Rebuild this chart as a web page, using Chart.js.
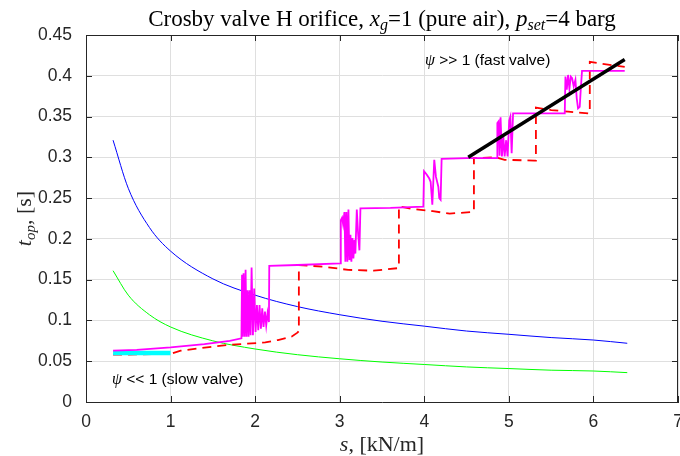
<!DOCTYPE html>
<html><head><meta charset="utf-8">
<script src="https://cdn.jsdelivr.net/npm/chart.js@4/dist/chart.umd.min.js"></script>
<style>html,body{margin:0;padding:0;background:#fff;}</style>
</head><body>
<canvas id="c" width="680" height="456"></canvas>
<script>
// ---------- data ----------
const xTickValues = [0, 1, 2, 3, 4, 5, 6, 7];
const yTickLabels = ['0', '0.05', '0.1', '0.15', '0.2', '0.25', '0.3', '0.35', '0.4', '0.45'];

const blueS = [0.32, 0.5, 0.75, 1.0, 1.5, 2.0, 2.5, 3.0, 3.5, 4.0, 4.5, 5.0, 5.5, 6.0, 6.4];
const blueT = [0.321, 0.262, 0.214, 0.185, 0.151, 0.131, 0.117, 0.107, 0.099, 0.093, 0.087, 0.083, 0.079, 0.076, 0.072];

const greenS = [0.32, 0.5, 0.75, 1.0, 1.5, 2.0, 2.5, 3.0, 3.5, 4.0, 4.5, 5.0, 5.5, 6.0, 6.4];
const greenT = [0.161, 0.131, 0.107, 0.092, 0.075, 0.065, 0.058, 0.053, 0.049, 0.046, 0.043, 0.041, 0.039, 0.038, 0.036];

const cyanS = [0.32, 1.0];
const cyanT = [0.060, 0.060];

const blackS = [4.52, 6.37];
const blackT = [0.300, 0.420];

const magentaS = [0.32, 0.6, 1.0, 1.4, 1.7, 1.838,
  1.845, 1.852, 1.863, 1.875, 1.887, 1.898, 1.910, 1.922, 1.934, 1.946, 1.958, 1.974, 1.989, 2.005,
  2.021, 2.037, 2.052, 2.068, 2.084, 2.099, 2.116, 2.131, 2.147, 2.163, 2.167,
  2.5, 3.005,
  3.013, 3.028, 3.040, 3.056, 3.067, 3.079, 3.091, 3.103, 3.115, 3.127, 3.138, 3.150, 3.162, 3.174,
  3.185, 3.202, 3.217, 3.233, 3.245,
  3.6, 3.989,
  3.997, 4.028, 4.059, 4.075, 4.095, 4.118, 4.138, 4.166, 4.177, 4.193, 4.205,
  4.5, 4.862,
  4.864, 4.878, 4.890, 4.902, 4.918, 4.935, 4.950, 4.968, 4.985, 5.004, 5.018, 5.033, 5.050,
  5.4, 5.661,
  5.669, 5.685, 5.700, 5.716, 5.732, 5.748, 5.767, 5.787, 5.803, 5.818, 5.838, 5.850, 5.865,
  6.37];
const magentaT = [0.063, 0.064, 0.067, 0.071, 0.075, 0.078,
  0.156, 0.080, 0.158, 0.080, 0.162, 0.080, 0.137, 0.080, 0.137, 0.082, 0.165, 0.082, 0.139, 0.086,
  0.119, 0.088, 0.119, 0.090, 0.115, 0.092, 0.111, 0.094, 0.109, 0.098, 0.167,
  0.168, 0.170,
  0.223, 0.226, 0.218, 0.233, 0.172, 0.233, 0.172, 0.236, 0.174, 0.205, 0.172, 0.201, 0.176, 0.199,
  0.182, 0.236, 0.207, 0.186, 0.2375,
  0.238, 0.2395,
  0.283, 0.279, 0.274, 0.270, 0.242, 0.297, 0.276, 0.264, 0.250, 0.248, 0.298,
  0.299, 0.299,
  0.342, 0.344, 0.302, 0.349, 0.301, 0.325, 0.301, 0.321, 0.301, 0.345, 0.350, 0.305, 0.354,
  0.354, 0.354,
  0.399, 0.383, 0.401, 0.384, 0.399, 0.397, 0.387, 0.395, 0.372, 0.360, 0.362, 0.383, 0.406,
  0.406];

const redS = [0.32, 1.0, 1.12, 1.51, 1.68, 2.12, 2.27, 2.43, 2.50, 2.517, 2.517,
  2.8, 3.1, 3.4, 3.68, 3.70, 3.70,
  3.85, 4.1, 4.3, 4.57, 4.587, 4.587,
  4.85, 4.95, 5.30, 5.32, 5.32,
  5.5, 5.7, 5.94, 5.957, 5.957,
  6.15, 6.37];
const redT = [0.058, 0.059, 0.063, 0.068, 0.070, 0.073, 0.076, 0.080, 0.085, 0.087, 0.168,
  0.166, 0.162, 0.161, 0.164, 0.165, 0.240,
  0.237, 0.234, 0.231, 0.233, 0.234, 0.299,
  0.300, 0.297, 0.296, 0.296, 0.361,
  0.358, 0.356, 0.354, 0.354, 0.417,
  0.414, 0.411];

// ---------- helpers ----------
const pts = (xs, ys) => xs.map((x, i) => ({x: x, y: ys[i]}));
const SERIF = '"Liberation Serif", "DejaVu Serif", serif';
const SANS = '"Liberation Sans", Arial, sans-serif';
const AX = '#262626';

function rich(ctx, parts, x, y, align) {
  let w = 0;
  parts.forEach(p => { ctx.font = p[1]; w += ctx.measureText(p[0]).width; });
  let cx = align === 'center' ? x - w / 2 : x;
  parts.forEach(p => { ctx.font = p[1]; ctx.fillText(p[0], cx, y + (p[2] || 0)); cx += ctx.measureText(p[0]).width; });
}

const decor = {
  id: 'decor',
  afterDraw(chart) {
    const ctx = chart.ctx, a = chart.chartArea;
    const xs = chart.scales.x, ys = chart.scales.y;
    ctx.save();
    // box
    ctx.strokeStyle = AX; ctx.lineWidth = 1;
    ctx.beginPath();
    ctx.moveTo(a.left + 0.5, a.top + 0.5); ctx.lineTo(a.right - 0.5, a.top + 0.5);
    ctx.lineTo(a.right - 0.5, a.bottom);
    ctx.stroke();
    // inward ticks
    ctx.beginPath();
    xTickValues.forEach(v => {
      const px = Math.round(xs.getPixelForValue(v)) + 0.5;
      ctx.moveTo(px, a.bottom); ctx.lineTo(px, a.bottom - 6);
      ctx.moveTo(px, a.top); ctx.lineTo(px, a.top + 6);
    });
    yTickLabels.forEach((l, i) => {
      const py = Math.round(ys.getPixelForValue(i * 0.05)) + 0.5;
      ctx.moveTo(a.left, py); ctx.lineTo(a.left + 6, py);
      ctx.moveTo(a.right, py); ctx.lineTo(a.right - 6, py);
    });
    ctx.stroke();
    // title
    ctx.fillStyle = '#000'; ctx.textBaseline = 'alphabetic';
    const n = '23px ' + SERIF, it = 'italic 23px ' + SERIF, sub = 'italic 16px ' + SERIF;
    rich(ctx, [['Crosby valve H orifice, ', n], ['x', it], ['g', sub, 4], ['=1 (pure air), ', n],
               ['p', it], ['set', sub, 4], ['=4 barg', n]], (a.left + a.right) / 2, 26, 'center');
    // x label
    ctx.fillStyle = AX;
    const n2 = '22px ' + SERIF, it2 = 'italic 22px ' + SERIF, sub2 = 'italic 15px ' + SERIF;
    rich(ctx, [['s', it2], [', [kN/m]', n2]], (a.left + a.right) / 2, 451, 'center');
    // y label
    ctx.save();
    ctx.translate(31, (a.top + a.bottom) / 2);
    ctx.rotate(-Math.PI / 2);
    rich(ctx, [['t', it2], ['op', sub2, 4], [', [s]', n2]], 0, 0, 'center');
    ctx.restore();
    // annotations
    ctx.fillStyle = '#000';
    rich(ctx, [['\u03C8', 'italic 16px ' + SERIF], [' >> 1 (fast valve)', '15.5px ' + SANS]], 425, 65, 'left');
    rich(ctx, [['\u03C8', 'italic 16px ' + SERIF], [' << 1 (slow valve)', '15.5px ' + SANS]], 112, 384, 'left');
    ctx.restore();
  }
};

new Chart(document.getElementById('c'), {
  type: 'scatter',
  data: {
    datasets: [
      {data: pts(blackS, blackT), borderColor: '#000', borderWidth: 3.5, order: 0},
      {data: pts(magentaS, magentaT), borderColor: '#ff00ff', borderWidth: 1.8, order: 1},
      {data: pts(cyanS, cyanT), borderColor: '#00ffff', borderWidth: 4.5, order: 2},
      {data: pts(redS, redT), borderColor: '#ff0000', borderWidth: 1.8, borderDash: [9, 6], order: 3},
      {data: pts(blueS, blueT), borderColor: '#0000ff', borderWidth: 1, cubicInterpolationMode: 'monotone', order: 4},
      {data: pts(greenS, greenT), borderColor: '#00ff00', borderWidth: 1, cubicInterpolationMode: 'monotone', order: 5}
    ].map(d => Object.assign({showLine: true, pointRadius: 0, pointHoverRadius: 0, fill: false, borderCapStyle: 'butt'}, d))
  },
  options: {
    responsive: false, animation: false, devicePixelRatio: 1,
    layout: {padding: {top: 35, right: 2, left: 0, bottom: 0}},
    plugins: {legend: {display: false}, tooltip: {enabled: false}, title: {display: false}},
    scales: {
      x: {
        type: 'linear', min: 0, max: 7,
        afterFit: s => { s.height = 54; s.paddingLeft = 0; s.paddingRight = 0; },
        afterBuildTicks: s => { s.ticks = xTickValues.map(v => ({value: v})); },
        ticks: {color: AX, font: {family: SANS, size: 17.5}, padding: 10, maxRotation: 0},
        grid: {color: '#dfdfdf', drawTicks: false},
        border: {display: true, color: AX, width: 1}
      },
      y: {
        min: 0, max: 0.45,
        afterFit: s => { s.width = 86; s.paddingTop = 0; s.paddingBottom = 0; },
        afterBuildTicks: s => { s.ticks = yTickLabels.map((l, i) => ({value: i * 0.05})); },
        ticks: {color: AX, font: {family: SANS, size: 17.5}, padding: 14, callback: (v, i) => yTickLabels[i]},
        grid: {color: '#dfdfdf', drawTicks: false},
        border: {display: true, color: AX, width: 1}
      }
    }
  },
  plugins: [decor]
});
</script>
</body></html>
